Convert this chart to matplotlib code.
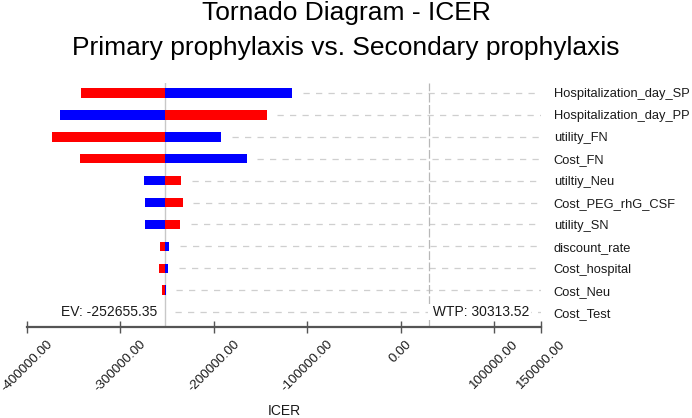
import numpy as np
import matplotlib
matplotlib.use("Agg")
import matplotlib.pyplot as plt

plt.rcParams['font.family'] = ['Liberation Sans', 'DejaVu Sans']

# parameters, top to bottom
params = ["Hospitalization_day_SP", "Hospitalization_day_PP", "utility_FN", "Cost_FN",
          "utiltiy_Neu", "Cost_PEG_rhG_CSF", "utility_SN", "discount_rate",
          "Cost_hospital", "Cost_Neu", "Cost_Test"]

# ICER at each end of the parameter range
red_vals  = [-341700, -143100, -373500, -342800, -235000, -233500, -236000,
             -257400, -258500, -255600, -252800]
blue_vals = [-116000, -364200, -192100, -164500, -274900, -273900, -273900,
             -247800, -248900, -251300, -252500]

ev  = -252655.35
wtp = 30313.52

xticks = [-400000, -300000, -200000, -100000, 0, 100000, 150000]

RED  = "#ff0000"
BLUE = "#0000ff"
TXT  = "#1a1a1a"

fig = plt.figure(figsize=(6.92, 4.18), dpi=100)
ax = fig.add_axes([0.039, 0.2177, 0.743, 0.5837])

y = np.arange(len(params))
h = 0.43
red_vals  = np.array(red_vals)
blue_vals = np.array(blue_vals)

ax.set_xlim(-400000, 150000)
ax.set_ylim(10.68, -0.4545)

# dashed guide lines from the end of each bar to the right edge
pad = 0.02 * (150000 + 400000)
starts = np.maximum(np.maximum(red_vals, blue_vals), ev) + pad
ax.hlines(y, starts, 150000, colors="#cfcfcf", linestyles=(0, (5, 5)), linewidth=0.9, zorder=1)

ax.barh(y, red_vals - ev, left=ev, height=h, color=RED, zorder=3)
ax.barh(y, blue_vals - ev, left=ev, height=h, color=BLUE, zorder=3)

ax.axvline(ev, color="#c8c8c8", linewidth=1.0, zorder=2)
ax.axvline(wtp, color="#b8b8b8", linewidth=0.9, linestyle=(0, (7, 2)), zorder=2)

ax.text(ev, y[-1], "EV: -252655.35  ", ha="right", va="center", fontsize=10, color=TXT)
ax.text(wtp, y[-1], " WTP: 30313.52", ha="left", va="center", fontsize=10, color=TXT,
        bbox=dict(facecolor="white", edgecolor="none", pad=1.0), zorder=4)

ax.yaxis.tick_right()
ax.set_yticks(y)
ax.set_yticklabels(params, fontsize=9.3, color=TXT)
ax.tick_params(axis="y", length=0, pad=9)

ax.set_xticks(xticks)
ax.set_xticklabels(["%.2f" % v for v in xticks], rotation=45, ha="center",
                   fontsize=9.6, color=TXT)
ax.tick_params(axis="x", direction="inout", length=8, width=1, color="#555555", pad=4)

for s in ["top", "left", "right"]:
    ax.spines[s].set_visible(False)
ax.spines["bottom"].set_color("#555555")
ax.spines["bottom"].set_linewidth(1.6)

ax.set_xlabel("ICER", fontsize=10, color=TXT, labelpad=7)

fig.text(0.5, 0.951, "Tornado Diagram - ICER", ha="center", va="baseline", fontsize=19, color="black")
fig.text(0.5, 0.869, "Primary prophylaxis vs. Secondary prophylaxis", ha="center", va="baseline",
         fontsize=19, color="black")

fig.savefig("out.png", dpi=100)
